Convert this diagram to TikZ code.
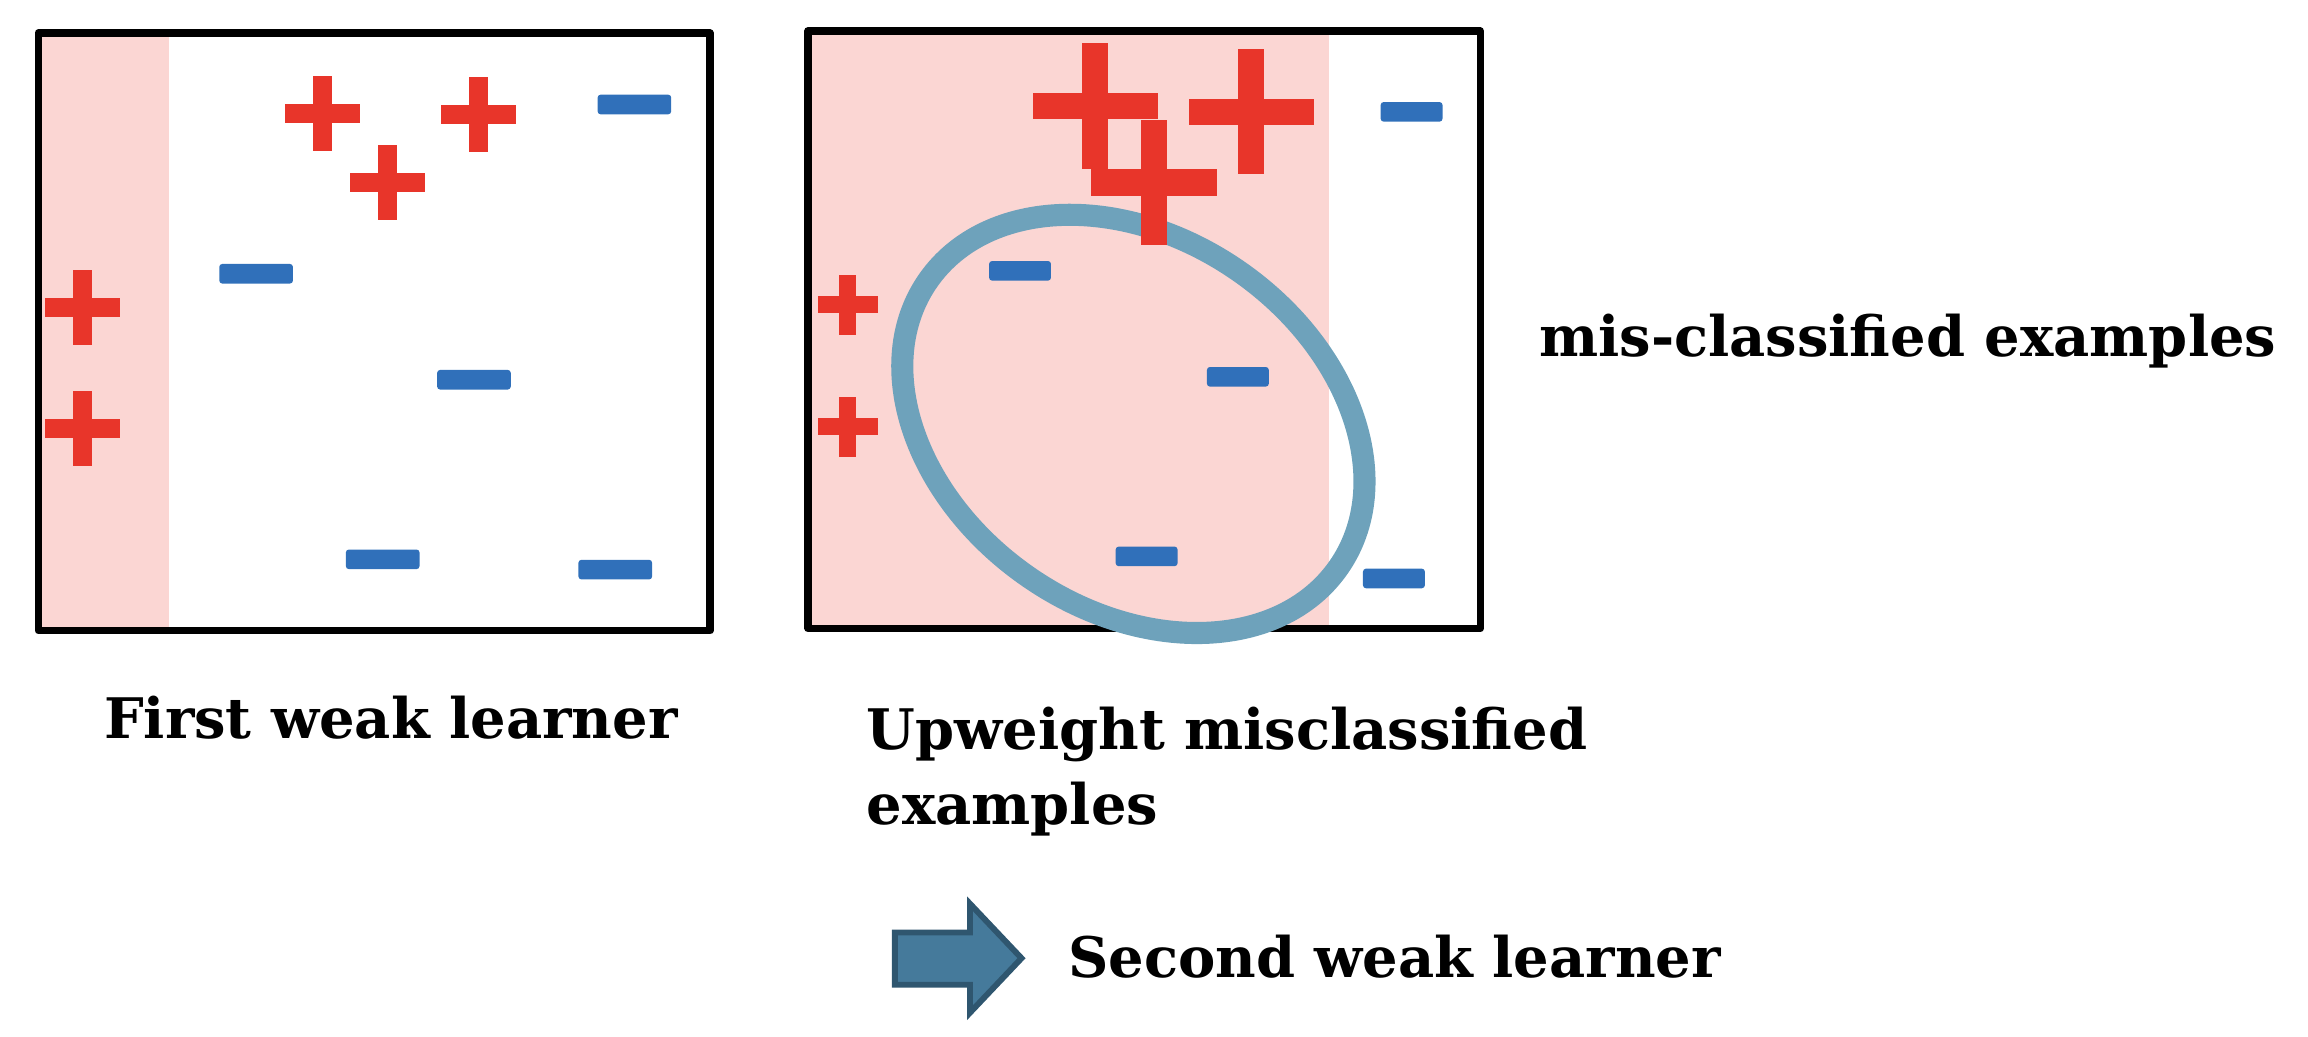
\documentclass[tikz,border=0pt]{standalone}
\usepackage{fontspec}
\setmainfont{DejaVu Serif}
\usepackage{xcolor}
\usepackage{tikz}
\usetikzlibrary{positioning}
\definecolor{bandpink}{HTML}{FBD6D3}
\definecolor{plusred}{HTML}{E8352A}
\definecolor{minusblue}{HTML}{3070BA}
\definecolor{ringblue}{HTML}{6EA2BB}
\definecolor{arrowfill}{HTML}{457A9B}
\definecolor{arrowedge}{HTML}{2F566F}
\tikzset{
  frame box/.style={
    draw=black,
    line width=0.05cm,
    line join=round
  },
  band/.style={
    fill=bandpink
  },
  minus sign/.style={
    fill=minusblue,
    rounded corners=0.02cm,
    inner sep=0pt,
    minimum height=0.133cm
  },
  ring/.style={
    draw=ringblue,
    line width=0.15cm
  },
  caption/.style={
    font=\fontsize{10.8}{14.5}\selectfont\bfseries,
    inner sep=0pt,
    anchor=base west
  },
  arrow shape/.style={
    fill=arrowfill,
    draw=arrowedge,
    line width=0.04cm,
    line join=miter
  },
  pics/plus sign/.style 2 args={
    code={
      \fill[plusred] (-#1,-#2) rectangle (#1,#2);
      \fill[plusred] (-#2,-#1) rectangle (#2,#1);
    }
  }
}

\begin{document}
\begin{tikzpicture}[x=0.01cm, y=-0.01cm]
  \useasboundingbox (0,0) rectangle (1568,704);

  % shaded regions
  \fill[band] (26,22.5) rectangle (115,428.5);
  \fill[band] (549,21) rectangle (903,427);

  % frames
  \draw[frame box] (26,22.5) rectangle (482.4,428.5);
  \draw[frame box] (549,21) rectangle (1005.6,427);

  % first weak learner: negatives
  \node[minus sign, minimum width=0.5cm] (ma1) at (431,71) {};
  \node[minus sign, minimum width=0.5cm] (ma2) at (174,186) {};
  \node[minus sign, minimum width=0.5cm] (ma3) at (322,258) {};
  \node[minus sign, minimum width=0.5cm] (ma4) at (260,380) {};
  \node[minus sign, minimum width=0.5cm] (ma5) at (418,387) {};

  % first weak learner: positives
  \pic at (219,77)  {plus sign={25.5}{6.5}};
  \pic at (325,78)  {plus sign={25.5}{6.5}};
  \pic at (263,124) {plus sign={25.5}{6.5}};
  \pic at (56,209)  {plus sign={25.5}{6.5}};
  \pic at (56,291)  {plus sign={25.5}{6.5}};

  % second round: negatives
  \node[minus sign, minimum width=0.42cm] (mb1) at (959,76) {};
  \node[minus sign, minimum width=0.42cm] (mb2) at (693,184) {};
  \node[minus sign, minimum width=0.42cm] (mb3) at (841,256) {};
  \node[minus sign, minimum width=0.42cm] (mb4) at (779,378) {};
  \node[minus sign, minimum width=0.42cm] (mb5) at (947,393) {};

  % ring around the misclassified ones
  \draw[ring, rotate around={-35:(770,288)}] (770,288) ellipse [x radius=1.7cm, y radius=1.26cm];

  % second round: positives, upweighted ones larger
  \pic at (744,72)  {plus sign={42.5}{9}};
  \pic at (850,76)  {plus sign={42.5}{9}};
  \pic at (784,124) {plus sign={42.5}{9}};
  \pic at (576,207) {plus sign={20.5}{5.75}};
  \pic at (576,290) {plus sign={20.5}{5.75}};

  % block arrow
  \draw[arrow shape] (608,633.5) -- (659,633.5) -- (659,614) -- (694,651)
    -- (659,688) -- (659,669) -- (608,669) -- cycle;

  % captions
  \node[caption] (first) at (70,502) {First weak learner};
  \node[caption, align=left] (upweight) at (588,560) {Upweight misclassified\\examples};
  \node[caption] (miscl) at (1045,242) {mis-classified examples};
  \node[caption] (second) at (725,664) {Second weak learner};
\end{tikzpicture}
\end{document}
